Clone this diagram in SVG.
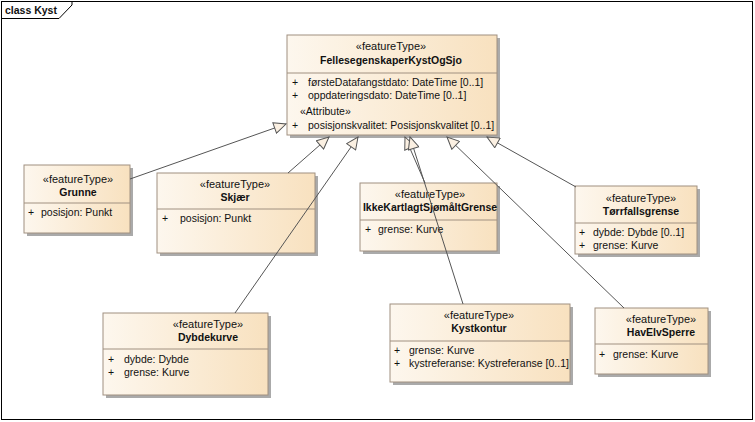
<svg xmlns="http://www.w3.org/2000/svg" width="755" height="422" viewBox="0 0 755 422">
<defs>
<linearGradient id="g" x1="0" y1="0" x2="1" y2="0">
<stop offset="0" stop-color="#FDF7EE"/>
<stop offset="1" stop-color="#F8E1BF"/>
</linearGradient>
<marker id="gen" viewBox="0 0 14 12" refX="13" refY="6" markerWidth="14" markerHeight="12" markerUnits="userSpaceOnUse" orient="auto">
<path d="M1,0.5 L13,6 L1,11.5 Z" fill="#FBF0E2" stroke="#555" stroke-width="1"/>
</marker>
<style>
.sh{fill:#AAAAAA}
.bx{fill:url(#g);stroke:#A09080;stroke-width:1}
.sep{stroke:#A09080;stroke-width:1}
text{font-family:"Liberation Sans",Arial,sans-serif;font-size:10.5px;fill:#111}
.st{text-anchor:middle;font-size:11px}
.nm{text-anchor:middle;font-weight:bold;font-size:10.5px}
.cn{stroke:#555;stroke-width:1;fill:none;marker-end:url(#gen)}
</style>
</defs>
<rect x="0" y="0" width="755" height="422" fill="#fff"/>
<g id="frame">
<rect x="1.5" y="1.5" width="751" height="418" fill="none" stroke="#000" stroke-width="1"/>
<path d="M1.5,18.5 H59 L72,5 V1.5" fill="none" stroke="#000" stroke-width="1"/>
<text x="5" y="14" font-weight="bold" font-size="11px">class Kyst</text>
</g>
<g id="FellesegenskaperKystOgSjo">
<rect class="sh" x="290" y="38" width="210" height="100"/>
<rect class="bx" x="287" y="35" width="210" height="100"/>
<text class="st" x="391" y="50">«featureType»</text>
<text class="nm" x="391" y="64">FellesegenskaperKystOgSjo</text>
<line class="sep" x1="287" y1="73" x2="497" y2="73"/>
<text x="292" y="86">+</text><text x="308" y="86">førsteDatafangstdato: DateTime [0..1]</text>
<text x="292" y="99">+</text><text x="308" y="99">oppdateringsdato: DateTime [0..1]</text>
<text x="300" y="115">«Attribute»</text>
<text x="292" y="129">+</text><text x="308" y="129">posisjonskvalitet: Posisjonskvalitet [0..1]</text>
</g>
<g id="Grunne">
<rect class="sh" x="27" y="168" width="106" height="68"/>
<rect class="bx" x="24" y="165" width="106" height="68"/>
<text class="st" x="78" y="183">«featureType»</text>
<text class="nm" x="78" y="196">Grunne</text>
<line class="sep" x1="24" y1="203" x2="130" y2="203"/>
<text x="28" y="216">+</text><text x="41" y="216">posisjon: Punkt</text>
</g>
<g id="Skjaer">
<rect class="sh" x="160" y="176" width="158" height="80"/>
<rect class="bx" x="157" y="173" width="158" height="80"/>
<text class="st" x="235" y="188">«featureType»</text>
<text class="nm" x="235" y="201">Skjær</text>
<line class="sep" x1="157" y1="209" x2="315" y2="209"/>
<text x="162" y="222">+</text><text x="180" y="222">posisjon: Punkt</text>
</g>
<g id="IkkeKartlagtSjomaltGrense">
<rect class="sh" x="363" y="186" width="137" height="68"/>
<rect class="bx" x="360" y="183" width="137" height="68"/>
<text class="st" x="430" y="198">«featureType»</text>
<text class="nm" x="430" y="211">IkkeKartlagtSjømåltGrense</text>
<line class="sep" x1="360" y1="220" x2="497" y2="220"/>
<text x="365" y="233">+</text><text x="378" y="233">grense: Kurve</text>
</g>
<g id="Torrfallsgrense">
<rect class="sh" x="578" y="189" width="122" height="68"/>
<rect class="bx" x="575" y="186" width="122" height="68"/>
<text class="st" x="641" y="202">«featureType»</text>
<text class="nm" x="641" y="215">Tørrfallsgrense</text>
<line class="sep" x1="575" y1="223" x2="697" y2="223"/>
<text x="579" y="236">+</text><text x="593" y="236">dybde: Dybde [0..1]</text>
<text x="579" y="249">+</text><text x="593" y="249">grense: Kurve</text>
</g>
<g id="Dybdekurve">
<rect class="sh" x="106" y="316" width="165" height="82"/>
<rect class="bx" x="103" y="313" width="165" height="82"/>
<text class="st" x="208" y="328">«featureType»</text>
<text class="nm" x="208" y="341">Dybdekurve</text>
<line class="sep" x1="103" y1="349" x2="268" y2="349"/>
<text x="108" y="363">+</text><text x="124" y="363">dybde: Dybde</text>
<text x="108" y="376">+</text><text x="124" y="376">grense: Kurve</text>
</g>
<g id="Kystkontur">
<rect class="sh" x="393" y="307" width="180" height="78"/>
<rect class="bx" x="390" y="304" width="180" height="78"/>
<text class="st" x="479" y="319">«featureType»</text>
<text class="nm" x="479" y="332">Kystkontur</text>
<line class="sep" x1="390" y1="341" x2="570" y2="341"/>
<text x="394" y="354">+</text><text x="409" y="354">grense: Kurve</text>
<text x="394" y="367">+</text><text x="409" y="367">kystreferanse: Kystreferanse [0..1]</text>
</g>
<g id="HavElvSperre">
<rect class="sh" x="598" y="311" width="113" height="66"/>
<rect class="bx" x="595" y="308" width="113" height="66"/>
<text class="st" x="661" y="323">«featureType»</text>
<text class="nm" x="661" y="336">HavElvSperre</text>
<line class="sep" x1="595" y1="344" x2="708" y2="344"/>
<text x="599" y="358">+</text><text x="613" y="358">grense: Kurve</text>
</g>
<g id="connectors">
<line class="cn" x1="130" y1="179" x2="286" y2="124"/>
<line class="cn" x1="288" y1="173" x2="329" y2="137"/>
<line class="cn" x1="235" y1="313" x2="358" y2="137"/>
<line class="cn" x1="425" y1="183" x2="405" y2="137"/>
<line class="cn" x1="463" y1="304" x2="410" y2="137"/>
<line class="cn" x1="624" y1="308" x2="447" y2="137"/>
<line class="cn" x1="576" y1="187" x2="487" y2="137"/>
</g>
</svg>
